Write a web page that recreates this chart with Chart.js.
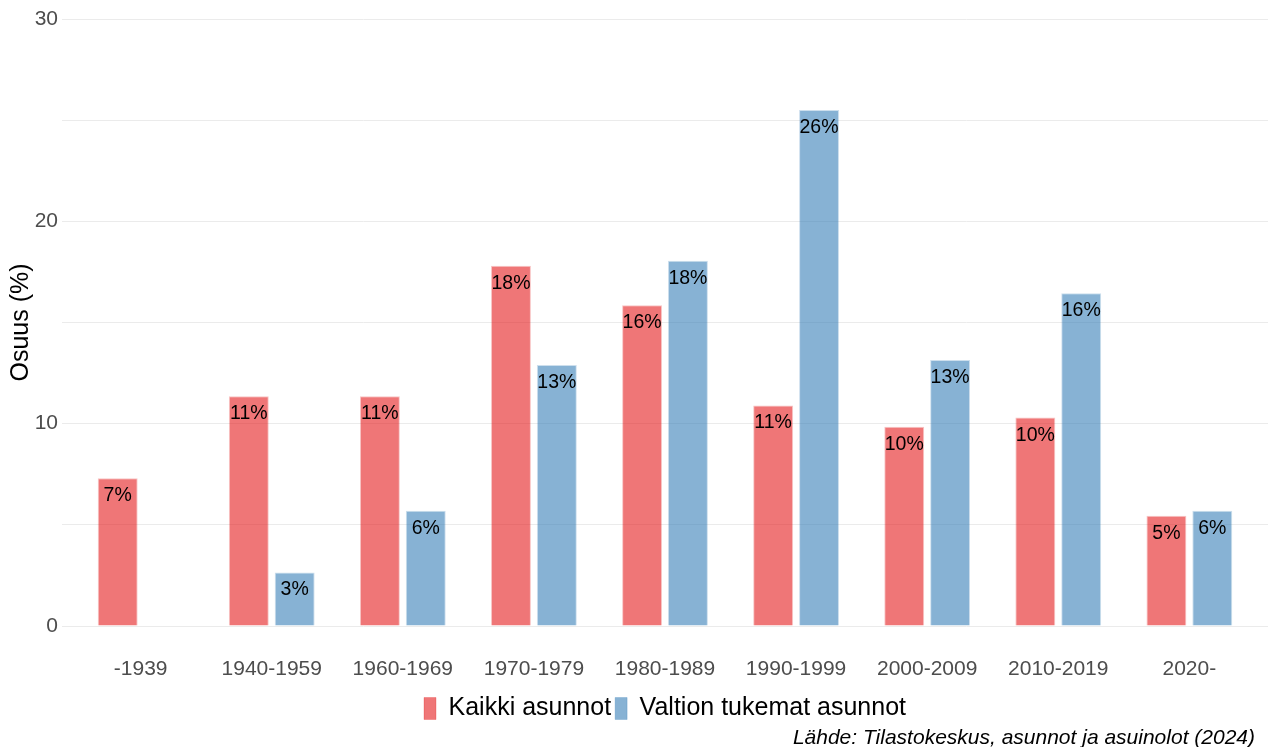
<!DOCTYPE html>
<html>
<head>
<meta charset="utf-8">
<script src="https://cdn.jsdelivr.net/npm/chart.js@4/dist/chart.umd.min.js"></script>
<style>
  html, body { margin: 0; padding: 0; background: #ffffff; }
  #wrap { width: 1268px; height: 747px; }
</style>
</head>
<body>
<div id="wrap"><canvas id="c" width="1268" height="747"></canvas></div>
<script>
// Construction periods and share of dwellings (%) per period
const categories = ['-1939', '1940-1959', '1960-1969', '1970-1979', '1980-1989', '1990-1999', '2000-2009', '2010-2019', '2020-'];
const kaikkiAsunnot = [7.3, 11.35, 11.35, 17.8, 15.85, 10.9, 9.85, 10.3, 5.45];
const valtionTukemat = [null, 2.65, 5.7, 12.9, 18.05, 25.5, 13.15, 16.45, 5.7];
const yTicks = [0, 10, 20, 30];
const seriesNames = ['Kaikki asunnot', 'Valtion tukemat asunnot'];
const sourceText = 'Lähde: Tilastokeskus, asunnot ja asuinolot (2024)';

const FONT = '"Liberation Sans", Arial, sans-serif';

const toPoints = arr => arr.map((v, i) => ({ x: i, y: v }));

// Percentage labels just inside the top of each bar
const valueLabels = {
  id: 'valueLabels',
  afterDatasetsDraw(chart) {
    const ctx = chart.ctx;
    ctx.save();
    ctx.font = '19.5px ' + FONT;
    ctx.fillStyle = '#000000';
    ctx.textAlign = 'center';
    ctx.textBaseline = 'alphabetic';
    chart.data.datasets.forEach((ds, di) => {
      const meta = chart.getDatasetMeta(di);
      meta.data.forEach((el, i) => {
        const v = ds.data[i].y;
        if (v === null || v === undefined) return;
        ctx.fillText(Math.round(v) + '%', el.x, el.y + 23);
      });
    });
    ctx.restore();
  }
};

// Source note in the lower right corner
const sourceNote = {
  id: 'sourceNote',
  afterDraw(chart) {
    const ctx = chart.ctx;
    ctx.save();
    ctx.font = 'italic 21px ' + FONT;
    ctx.fillStyle = '#000000';
    ctx.textAlign = 'right';
    ctx.textBaseline = 'alphabetic';
    ctx.fillText(sourceText, chart.width - 13, chart.height - 3);
    ctx.restore();
  }
};

new Chart(document.getElementById('c'), {
  type: 'bar',
  data: {
    datasets: [
      {
        label: seriesNames[0],
        data: toPoints(kaikkiAsunnot),
        backgroundColor: 'rgba(228,26,28,0.6)',
        borderColor: 'rgba(228,26,28,0.25)',
        borderWidth: 1,
        categoryPercentage: 0.70,
        barPercentage: 0.87
      },
      {
        label: seriesNames[1],
        data: toPoints(valtionTukemat),
        backgroundColor: 'rgba(55,126,184,0.6)',
        borderColor: 'rgba(55,126,184,0.25)',
        borderWidth: 1,
        categoryPercentage: 0.70,
        barPercentage: 0.87
      }
    ]
  },
  options: {
    responsive: false,
    animation: false,
    layout: { padding: { top: 19, right: 0, bottom: 16, left: 0 } },
    scales: {
      x: {
        type: 'linear',
        offset: false,
        min: -0.6,
        max: categories.length - 1 + 0.6,
        afterBuildTicks(axis) {
          axis.ticks = categories.map((_, i) => ({ value: i }));
        },
        afterFit(axis) { axis.height = 66; },
        grid: { display: false, drawTicks: false, offset: false },
        border: { display: false },
        ticks: {
          padding: 31,
          autoSkip: false,
          maxRotation: 0,
          color: '#4D4D4D',
          font: { family: FONT, size: 21 },
          callback: v => categories[v] ?? ''
        }
      },
      y: {
        min: 0,
        max: 30,
        afterBuildTicks(axis) {
          axis.ticks = [0, 5, 10, 15, 20, 25, 30].map(v => ({ value: v }));
        },
        afterFit(axis) { axis.width = 62; },
        grid: { color: '#EBEBEB', lineWidth: 1, drawTicks: false },
        border: { display: false },
        ticks: {
          padding: 4,
          color: '#4D4D4D',
          font: { family: FONT, size: 21 },
          callback: v => yTicks.includes(v) ? String(v) : ''
        },
        title: {
          display: true,
          text: 'Osuus (%)',
          color: '#000000',
          font: { family: FONT, size: 25 },
          padding: { top: 6, bottom: 0 }
        }
      }
    },
    plugins: {
      legend: {
        position: 'bottom',
        align: 'center',
        fullSize: false,
        labels: {
          boxWidth: 12,
          boxHeight: 22,
          padding: 4,
          color: '#000000',
          font: { family: FONT, size: 25 }
        }
      },
      title: { display: false },
      tooltip: { enabled: false }
    }
  },
  plugins: [valueLabels, sourceNote]
});
</script>
</body>
</html>
